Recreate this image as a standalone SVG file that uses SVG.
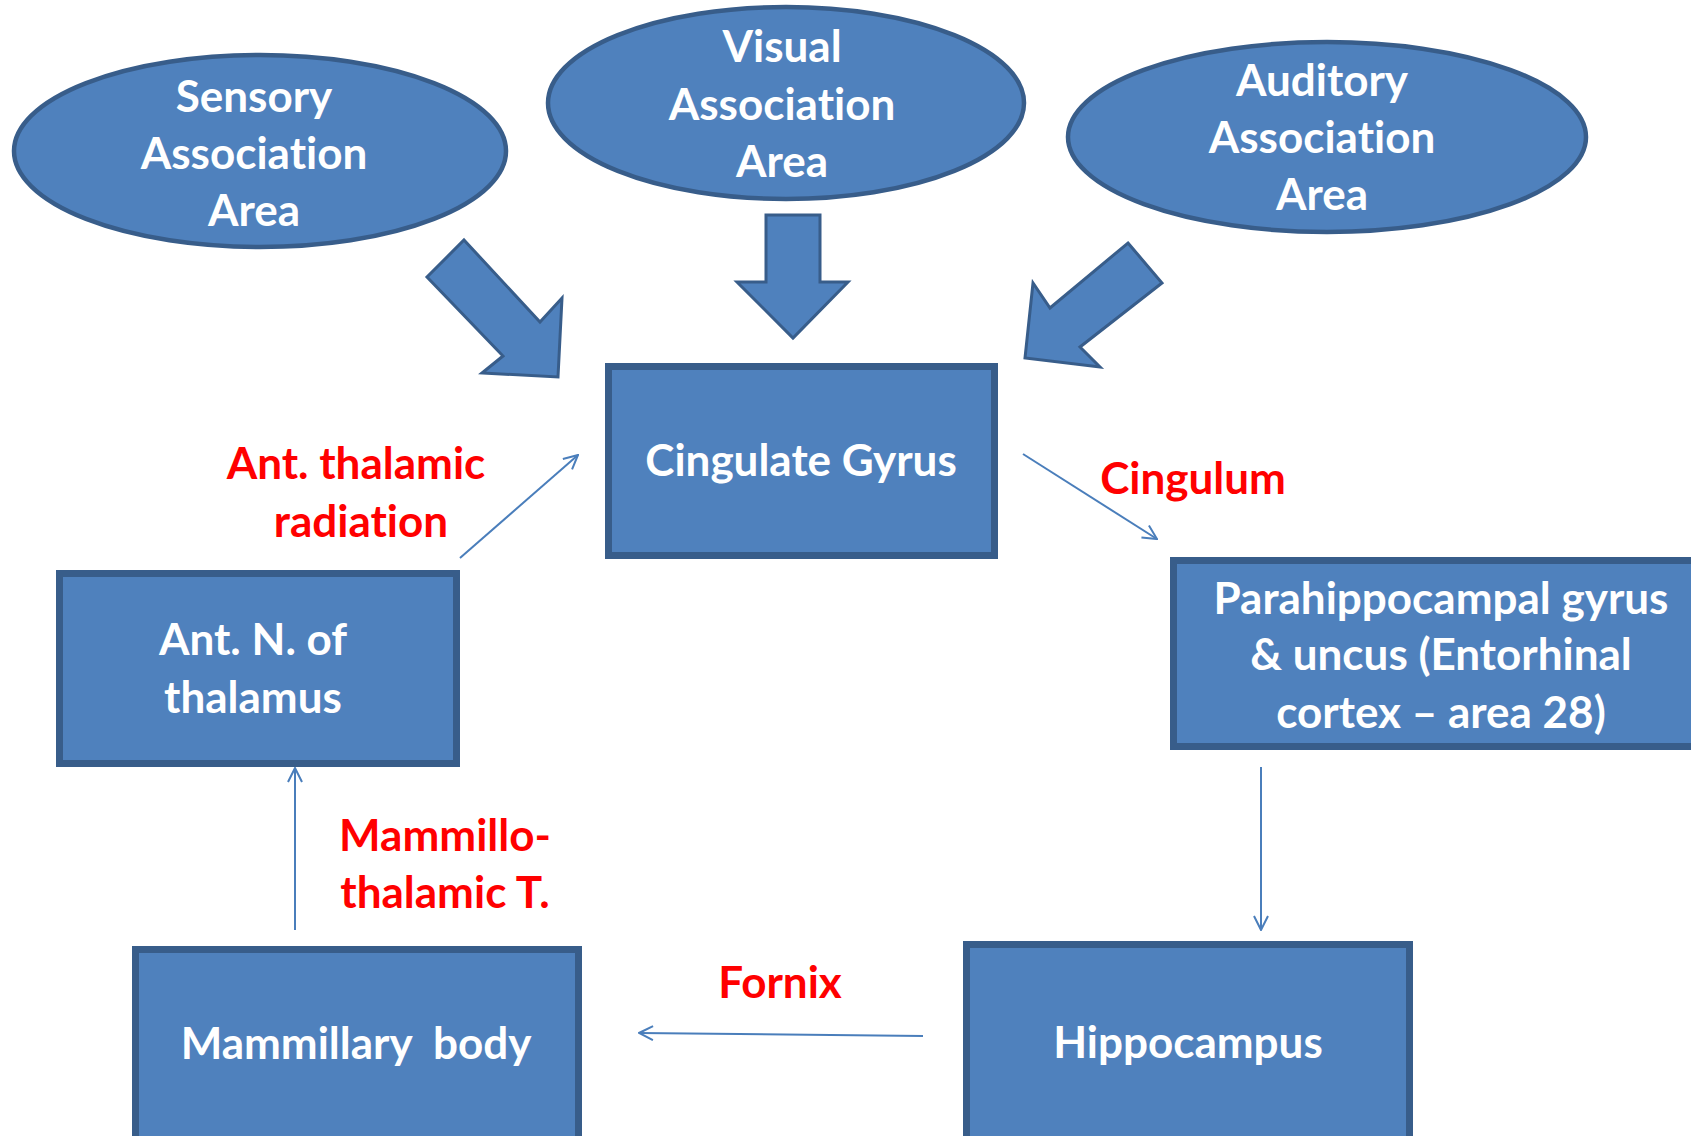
<svg xmlns="http://www.w3.org/2000/svg" width="1691" height="1136" viewBox="0 0 1691 1136">
<style>
.node{fill:#4f81bd;stroke:#385d8a;}
.ell{stroke-width:4.5;}
.box{stroke-width:7;}
.block{fill:#4f81bd;stroke:#385d8a;stroke-width:3;stroke-linejoin:miter;}
.conn{stroke:#4a7ebb;stroke-width:2;fill:none;}
.t{font-family:Lato,"Open Sans","DejaVu Sans",sans-serif;font-weight:bold;font-size:44px;text-anchor:middle;font-variant-ligatures:none;font-feature-settings:"liga" 0,"clig" 0,"calt" 0,"dlig" 0;}
.w{fill:#ffffff;}
.r{fill:#ff0000;}
</style>
<defs>
<marker id="open" viewBox="0 0 16 16" refX="15" refY="8" markerWidth="16" markerHeight="16" markerUnits="userSpaceOnUse" orient="auto">
<path d="M1,1 L15,8 L1,15" fill="none" stroke="#4a7ebb" stroke-width="2"/>
</marker>
</defs>
<rect width="1691" height="1136" fill="#ffffff"/>

<g id="sensory">
<ellipse class="node ell" cx="260" cy="151" rx="246" ry="96"/>
<text class="t w" x="254" y="112">Sensory</text>
<text class="t w" x="254" y="169">Association</text>
<text class="t w" x="254" y="226">Area</text>
</g>
<g id="visual">
<ellipse class="node ell" cx="786" cy="103" rx="238" ry="96"/>
<text class="t w" x="782" y="62">Visual</text>
<text class="t w" x="782" y="120">Association</text>
<text class="t w" x="782" y="177">Area</text>
</g>
<g id="auditory">
<ellipse class="node ell" cx="1327" cy="137" rx="259" ry="95"/>
<text class="t w" x="1322" y="96">Auditory</text>
<text class="t w" x="1322" y="153">Association</text>
<text class="t w" x="1322" y="210">Area</text>
</g>
<g id="cingulate">
<rect class="node box" x="608.5" y="366.5" width="386" height="189"/>
<text class="t w" x="801" y="476">Cingulate Gyrus</text>
</g>
<g id="parahippocampal">
<rect class="node box" x="1173.5" y="560.5" width="540" height="186"/>
<text class="t w" x="1441" y="614">Parahippocampal gyrus</text>
<text class="t w" x="1441" y="670">&amp; uncus (Entorhinal</text>
<text class="t w" x="1441" y="728">cortex – area 28)</text>
</g>
<g id="hippocampus">
<rect class="node box" x="966.5" y="944.5" width="443" height="200"/>
<text class="t w" x="1188" y="1058">Hippocampus</text>
</g>
<g id="mammillary">
<rect class="node box" x="135.5" y="949.5" width="443" height="200"/>
<text class="t w" x="356" y="1059" xml:space="preserve">Mammillary  body</text>
</g>
<g id="antn">
<rect class="node box" x="59.5" y="573.5" width="397" height="190"/>
<text class="t w" x="253" y="655">Ant. N. of</text>
<text class="t w" x="253" y="713">thalamus</text>
</g>

<g id="connectors">
<polygon class="block" points="464,240 540,322 562,298 558,377 482,373 503,356 427,277"/>
<polygon class="block" points="766,215 820,215 820,282 848,282 793,338 737,282 766,282"/>
<polygon class="block" points="1128,243 1162,283 1080,347 1100,367 1025,358 1033,283 1050,308"/>
<line class="conn" x1="460" y1="558" x2="578" y2="455" marker-end="url(#open)"/>
<line class="conn" x1="1023" y1="454" x2="1157" y2="539" marker-end="url(#open)"/>
<line class="conn" x1="1261" y1="767" x2="1261" y2="930" marker-end="url(#open)"/>
<line class="conn" x1="923" y1="1036" x2="639" y2="1033" marker-end="url(#open)"/>
<line class="conn" x1="295" y1="930" x2="295" y2="768" marker-end="url(#open)"/>
</g>

<g id="labels">
<text class="t r" x="356" y="479">Ant. thalamic</text>
<text class="t r" x="361" y="537">radiation</text>
<text class="t r" x="1193" y="494">Cingulum</text>
<text class="t r" x="445" y="851">Mammillo-</text>
<text class="t r" x="445" y="908">thalamic T.</text>
<text class="t r" x="780" y="998">Fornix</text>
</g>
</svg>
